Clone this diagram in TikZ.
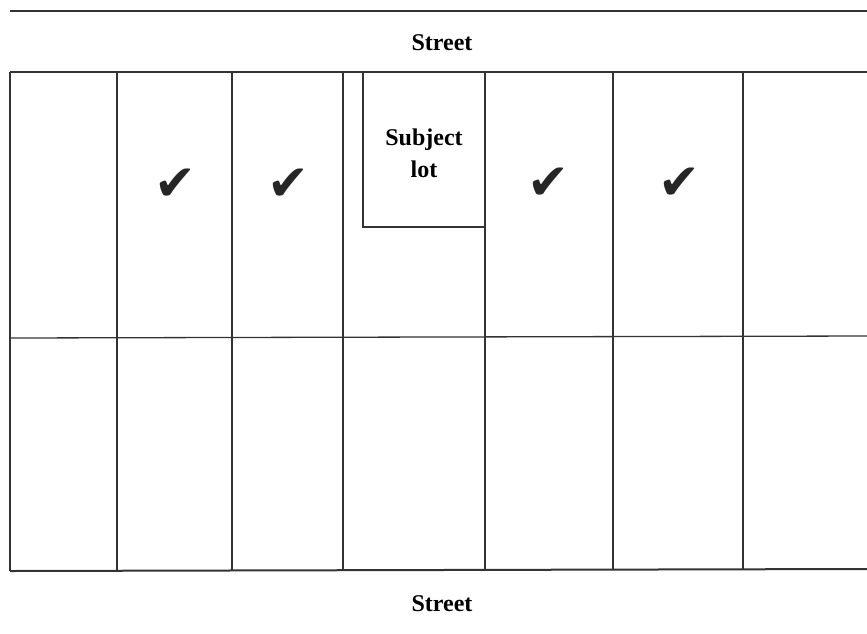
\documentclass[tikz,border=0pt]{standalone}
\usepackage{fontspec}
\setmainfont{Liberation Serif}
\newfontfamily\tickfont{DejaVu Sans}
\tikzset{
  lotline/.style={draw=black!80, line width=1.3pt},
  streetline/.style={draw=black!80, line width=2pt},
  label/.style={font=\fontsize{24}{32}\selectfont\bfseries, align=center},
  tick/.style={font=\tickfont\fontsize{50}{50}\selectfont, text=black!85}
}
\begin{document}
\begin{tikzpicture}[x=1pt,y=-1pt]
        \useasboundingbox (0,0) rectangle (867,633);
        \draw[streetline] (10,11) -- (867,11);
        \node[label] (topstreet) at (442,43) {Street};
        \draw[streetline] (10,72) -- (867,72);
        \draw[streetline] (10,72) -- (10,571);
        \draw[streetline] (10,571) -- (867,569);
        \draw[lotline] (10,338) -- (867,336);
        \foreach \x in {117,232,343,485,613,743}
            \draw[lotline] (\x,72) -- (\x,570);
        \draw[lotline] (363,72) -- (363,227) -- (485,227);
        \node[label, text width=110pt] (subject) at (424,153) {Subject\\lot};
        \node[tick] (tickA) at (175,185) {✔};
        \node[tick] (tickB) at (288,185) {✔};
        \node[tick] (tickC) at (548,184) {✔};
        \node[tick] (tickD) at (679,184) {✔};
        \node[label] (bottomstreet) at (442,604) {Street};
    \end{tikzpicture}
\end{document}
